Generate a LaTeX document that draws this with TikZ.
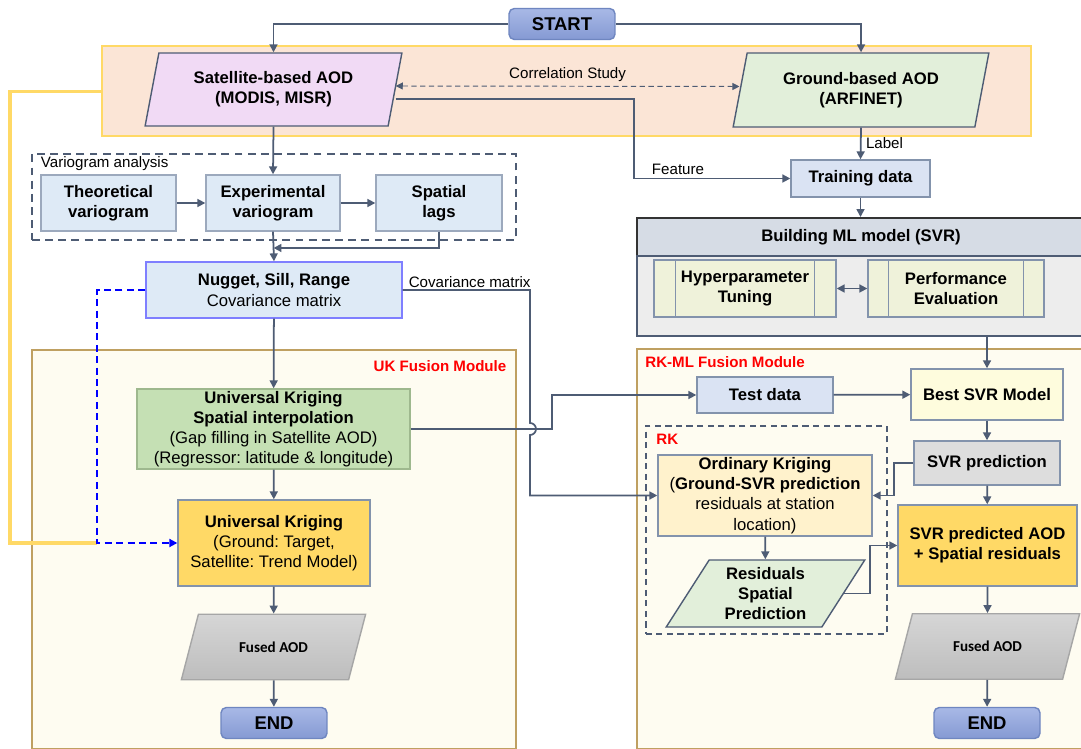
\documentclass[tikz,border=0pt]{standalone}
\usepackage{fontspec}
\setmainfont{Liberation Sans}
\newfontfamily\calfont{Carlito}
\usetikzlibrary{shapes.geometric,arrows.meta,positioning,calc}
\definecolor{slate}{HTML}{4E5C74}
\definecolor{boxline}{HTML}{8393AC}
\definecolor{termline}{HTML}{6F86C0}
\definecolor{termtop}{HTML}{A8B9E6}
\definecolor{termbot}{HTML}{8599D3}
\definecolor{bandfill}{HTML}{FBE5D6}
\definecolor{bandline}{HTML}{FFD966}
\definecolor{satfill}{HTML}{F1DAF5}
\definecolor{gndfill}{HTML}{E2EFDA}
\definecolor{lblue}{HTML}{DAE3F3}
\definecolor{vblue}{HTML}{DEEAF6}
\definecolor{nugline}{HTML}{7F7FFF}
\definecolor{mlhead}{HTML}{D6DCE5}
\definecolor{mlbody}{HTML}{EDEDED}
\definecolor{hypfill}{HTML}{EFF2DA}
\definecolor{bestfill}{HTML}{FEFCDD}
\definecolor{predgray}{HTML}{DDDDDD}
\definecolor{gold}{HTML}{FFD966}
\definecolor{okfill}{HTML}{FFF2CC}
\definecolor{ukgreen}{HTML}{C5E0B4}
\definecolor{greenline}{HTML}{9EB88E}
\definecolor{modfill}{HTML}{FEFCF1}
\definecolor{modline}{HTML}{BFA061}
\definecolor{fustop}{HTML}{D6D6D6}
\definecolor{fusbot}{HTML}{BDBDBD}
\newcommand{\fn}{\fontsize{9.5pt}{11.5pt}\selectfont}
\newcommand{\fs}{\fontsize{8.6pt}{10pt}\selectfont}
\newcommand{\fb}{\fontsize{10.5pt}{12pt}\selectfont}
\frenchspacing

\begin{document}
\begin{tikzpicture}[x=0.02cm, y=-0.02cm, font=\fn,
  line/.style={draw=slate, line width=1pt},
  arr/.style={line, -{Triangle[length=4.5pt,width=4.5pt]}},
  box/.style={draw=boxline, line width=0.8pt, align=center, inner sep=1pt},
  term/.style={box, draw=termline, rounded corners=3pt, top color=termtop, bottom color=termbot, font=\fb\bfseries, minimum width=2.12cm, minimum height=0.62cm},
  paraA/.style={box, draw=slate, trapezium, trapezium stretches=true, trapezium left angle=76, trapezium right angle=104, font=\fn\bfseries},
  paraB/.style={box, trapezium, trapezium stretches=true, trapezium left angle=60, trapezium right angle=120},
  fused/.style={paraB, draw=gray!70, top color=fustop, bottom color=fusbot, font=\calfont\bfseries\fontsize{8.6pt}{10pt}\selectfont, minimum width=3.7cm, minimum height=1.31cm},
  vario/.style={box, fill=vblue, draw=boxline!80, font=\fn\bfseries, minimum height=1.12cm},
  proc/.style={box, fill=hypfill, font=\fn\bfseries, minimum height=1.14cm},
  module/.style={draw=modline, fill=modfill, line width=1pt, anchor=north west},
  dbox/.style={draw=slate, dash pattern=on 4.5pt off 3pt, line width=1.1pt, anchor=north west},
  modlabel/.style={text=red, font=\fs\bfseries, inner sep=0pt},
  lbl/.style={font=\fs, inner sep=1.5pt}]
\path[use as bounding box, fill=white] (0,0) rectangle (1081,749);

\node[draw=bandline, fill=bandfill, line width=1.4pt, anchor=north west, minimum width=18.58cm, minimum height=1.8cm] (band) at (101,45) {};
\node[dbox, minimum width=9.68cm, minimum height=1.72cm] (vbox) at (31,153) {};
\node[lbl, anchor=north west] at ([xshift=0.14cm,yshift=-0.02cm]vbox.north west) {Variogram analysis};
\node[draw=black!80, fill=mlhead, line width=1.1pt, anchor=north west, minimum width=8.96cm, minimum height=0.76cm, font=\fn\bfseries] (mlhead) at (636,217) {Building ML model (SVR)};
\node[draw=slate, fill=mlbody, line width=1pt, anchor=north west, minimum width=8.96cm, minimum height=1.6cm] (mlbody) at (636,255) {};
\node[module, minimum width=9.68cm, minimum height=7.98cm] (ukmod) at (31,349) {};
\node[modlabel, anchor=north east] at ([xshift=-0.2cm,yshift=-0.22cm]ukmod.north east) {UK Fusion Module};
\node[module, minimum width=9.08cm, minimum height=8cm] (rkmod) at (636,348) {};
\node[modlabel, anchor=north west] at ([xshift=0.18cm,yshift=-0.16cm]rkmod.north west) {RK-ML Fusion Module};
\node[dbox, dash pattern=on 3.5pt off 2.5pt, line width=0.9pt, minimum width=4.82cm, minimum height=4.16cm] (rkbox) at (645,425) {};
\node[modlabel, anchor=north west] at ([xshift=0.22cm,yshift=-0.18cm]rkbox.north west) {RK};

\node[term] (start) at (562,24) {START};
\node[paraA, fill=satfill, minimum width=5.14cm, minimum height=1.46cm] (sat) at (273.5,89.5) {Satellite-based AOD\\(MODIS, MISR)};
\node[paraA, fill=gndfill, minimum width=5.12cm, minimum height=1.48cm] (gnd) at (861,90) {Ground-based AOD\\(ARFINET)};
\node[box, fill=lblue, font=\fn\bfseries, minimum width=2.78cm, minimum height=0.74cm] (train) at (860.5,178.5) {Training data};

\node[vario, minimum width=2.7cm] (theo) at (108.5,203) {Theoretical\\variogram};
\node[vario, minimum width=2.68cm] (expv) at (273,203) {Experimental\\variogram};
\node[vario, minimum width=2.52cm] (lags) at (439,203) {Spatial\\lags};
\node[box, fill=vblue, draw=nugline, minimum width=5.12cm, minimum height=1.12cm] (nug) at (274,290) {\textbf{Nugget, Sill, Range}\\Covariance matrix};

\node[box, fill=ukgreen, draw=greenline, minimum width=5.46cm, minimum height=1.6cm] (uksp) at (273.5,429) {\textbf{Universal Kriging}\\\textbf{Spatial interpolation}\\(Gap filling in Satellite AOD)\\(Regressor: latitude \& longitude)};
\node[box, fill=gold, minimum width=3.84cm, minimum height=1.72cm] (ukk) at (274,543) {\textbf{Universal Kriging}\\(Ground: Target,\\Satellite: Trend Model)};
\node[fused] (fus1) at (273.5,647) {Fused AOD};
\node[term] (end1) at (274,723) {END};

\node[proc, minimum width=3.64cm] (hyp) at (745,288.5) {Hyperparameter\\Tuning};
\node[proc, minimum width=3.52cm] (perf) at (956,288.5) {Performance\\Evaluation};
\foreach \n/\d in {hyp/0.44cm, perf/0.42cm} {
  \draw[boxline, line width=0.8pt] ([xshift=\d]\n.north west) -- ([xshift=\d]\n.south west);
  \draw[boxline, line width=0.8pt] ([xshift=-\d]\n.north east) -- ([xshift=-\d]\n.south east);
}

\node[box, fill=lblue, font=\fn\bfseries, minimum width=2.72cm, minimum height=0.72cm] (test) at (765,395) {Test data};
\node[box, fill=bestfill, font=\fn\bfseries, minimum width=3.04cm, minimum height=1.02cm] (best) at (987,394.5) {Best SVR Model};
\node[box, fill=predgray, font=\fn\bfseries, minimum width=2.92cm, minimum height=0.88cm] (svrp) at (987,463) {SVR prediction};
\node[box, fill=okfill, minimum width=4.28cm, minimum height=1.62cm] (ok) at (765,495.5) {\textbf{Ordinary Kriging}\\(\textbf{Ground-SVR prediction}\\residuals at station\\location)};
\node[paraB, draw=slate, fill=gndfill, font=\fn\bfseries, minimum width=3.98cm, minimum height=1.34cm] (res) at (765.5,593.5) {Residuals\\Spatial\\Prediction};
\node[box, fill=gold, font=\fn\bfseries, minimum width=3.58cm, minimum height=1.62cm] (sum) at (987.5,545.5) {SVR predicted AOD\\+ Spatial residuals};
\node[fused] (fus2) at (987.5,646.5) {Fused AOD};
\node[term] (end2) at (987,723) {END};

\coordinate (hop) at (530,429);
\coordinate (lagjoin) at ($(expv.south)!0.55!(nug.north)$);

\draw[arr] (start.west) -| (sat.north);
\draw[arr] (start.east) -| (gnd.north);
\draw[line, densely dashed, line width=0.55pt, {Triangle[length=4pt,width=4pt]}-{Triangle[length=4pt,width=4pt]}] ([yshift=0.07cm]sat.east) -- node[lbl, above=1pt] {Correlation Study} ([yshift=0.07cm]gnd.west);
\draw[arr] ([yshift=-0.19cm]sat.east) -| ([xshift=-3.12cm]train.west) -- node[lbl, above, pos=0.28] {Feature} (train.west);
\draw[arr] (gnd.south) -- node[lbl, right, inner sep=2.5pt] {Label} (train.north);
\draw[arr] (train.south) -- (train.south |- mlhead.north);
\draw[line, {Triangle[length=4.5pt,width=4.5pt]}-{Triangle[length=4.5pt,width=4.5pt]}] (hyp) -- (perf);
\draw[arr] (best.north |- mlbody.south) -- (best.north);

\draw[arr] (sat.south) -- (expv.north);
\draw[arr] (theo) -- (expv);
\draw[arr] (expv) -- (lags);
\draw[arr] (expv.south) -- (nug.north);
\draw[arr] (lags.south) |- (lagjoin);
\node[lbl, inner sep=1pt, anchor=south west] at ([xshift=0.08cm]nug.east) {Covariance matrix};
\draw[arr] (nug.east) -| ([yshift=0.12cm]hop) arc[start angle=90, end angle=-90, radius=0.12cm] |- (ok.west);
\draw[arr] (uksp.east) -| ([xshift=-2.88cm]test.west) -- (test.west);

\draw[arr] (nug) -- (uksp);
\draw[arr] (uksp) -- (ukk);
\draw[arr] (ukk) -- (fus1);
\draw[arr] (fus1) -- (end1);
\draw[bandline, line width=1.8pt] (band.west) -- ++(-1.82cm,0) |- ([xshift=-1.6cm]ukk.west);
\draw[blue, line width=1.1pt, dash pattern=on 4pt off 2.5pt, -{Triangle[length=4.5pt,width=4.5pt]}] (nug.west) -| ([xshift=-1.6cm]ukk.west) -- (ukk.west);

\draw[arr] (test) -- (best);
\draw[arr] (best) -- (svrp);
\draw[arr] (svrp.west) -| ([xshift=0.42cm]ok.east) -- (ok.east);
\draw[arr] (svrp) -- (sum);
\draw[arr] (ok) -- (res);
\draw[arr] (res.east) -| ([xshift=-0.54cm]sum.west) -- (sum.west);
\draw[arr] (sum) -- (fus2);
\draw[arr] (fus2) -- (end2);
\end{tikzpicture}
\end{document}
